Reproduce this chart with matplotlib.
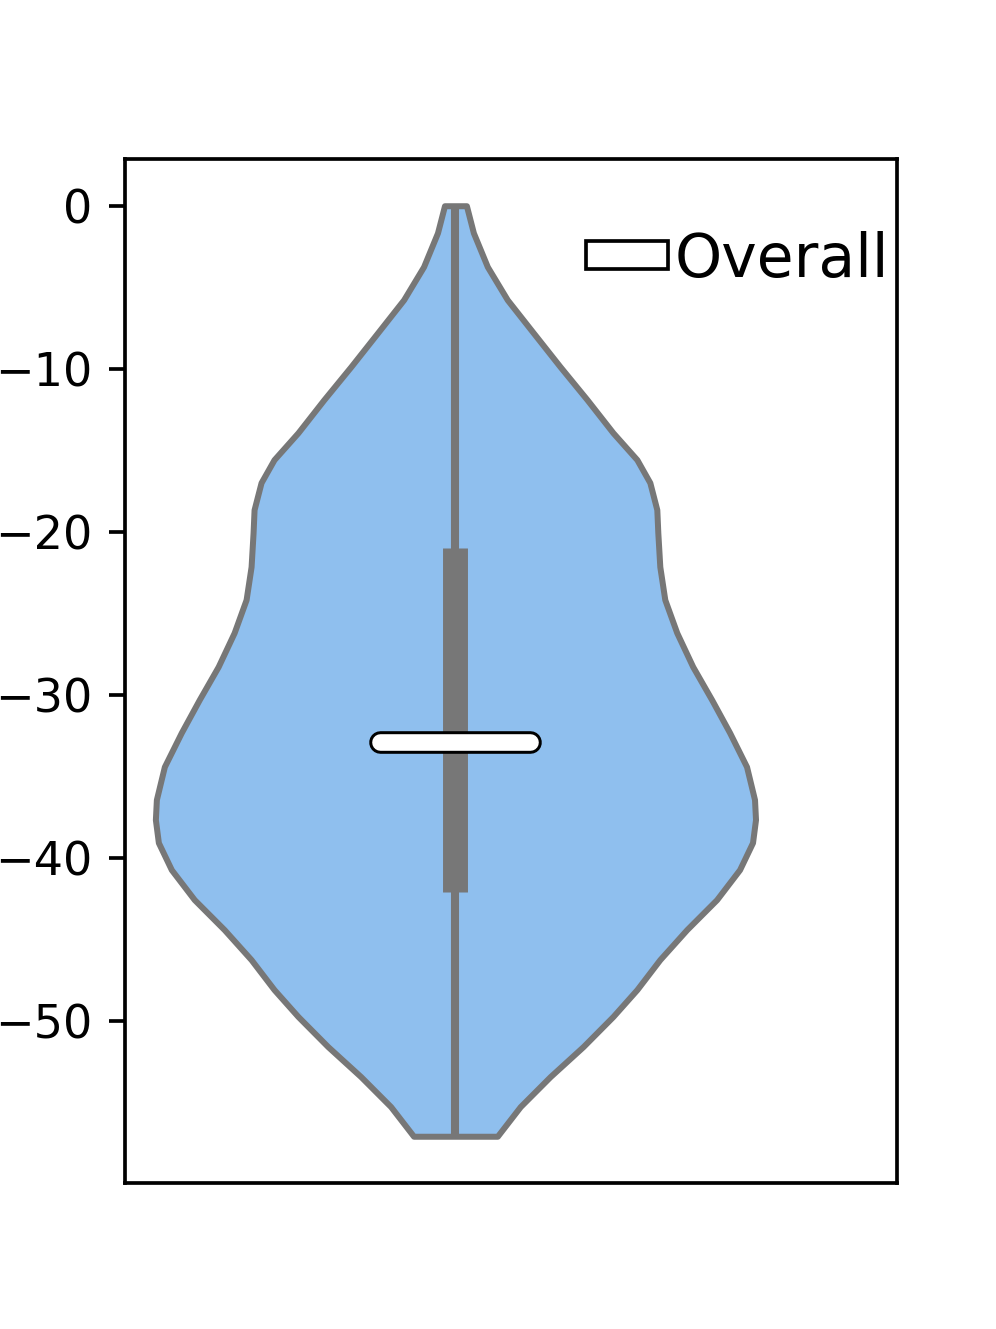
import matplotlib
matplotlib.use("Agg")
import matplotlib.pyplot as plt
import numpy as np
from matplotlib.patches import Patch

# violin outline: value and relative half-width
profile_y = [0.0, -1.66, -3.74, -5.77, -7.79, -9.88, -11.9, -13.93, -15.58,
             -16.99, -18.65, -20.06, -22.15, -24.17, -26.2, -28.28, -30.31,
             -32.33, -34.42, -36.44, -37.67, -39.08, -40.74, -42.58, -44.42,
             -46.26, -48.1, -49.75, -51.6, -53.44, -55.28, -57.1]
profile_w = [11, 18, 32, 52, 78, 105, 132, 158, 182, 195, 202, 203, 205, 210,
             222, 238, 257, 275, 292, 300, 301, 298, 285, 262, 232, 205, 182,
             158, 128, 95, 65, 42]

# box summary
data_max = 0.0
data_min = -57.1
q1 = -42.1
q3 = -21.0
median = -32.9
label = "Overall"

fill_color = "#8fbfee"
line_color = "#777777"

fig, ax = plt.subplots(figsize=(3, 4), dpi=332.33)

pos = 0.0
half = 0.4
w = np.array(profile_w) / max(profile_w) * half
y = np.array(profile_y)

ax.fill_betweenx(y, pos - w, pos + w, facecolor=fill_color,
                 edgecolor=line_color, linewidth=1.3, joinstyle="round",
                 zorder=1)
# whiskers and box
ax.plot([pos, pos], [data_min, data_max], color=line_color, lw=1.75,
        solid_capstyle="butt", zorder=2)
ax.plot([pos, pos], [q1, q3], color=line_color, lw=5.4,
        solid_capstyle="butt", zorder=2)
# median marker
ax.plot([pos - 0.1, pos + 0.1], [median, median], color="black", lw=4.9,
        solid_capstyle="round", zorder=3)
ax.plot([pos - 0.1, pos + 0.1], [median, median], color="white", lw=3.6,
        solid_capstyle="round", zorder=4)

ax.set_xlim(-0.441, 0.589)
ax.set_xticks([])
ax.set_yticks([0, -10, -20, -30, -40, -50])

handle = Patch(facecolor="white", edgecolor="black", linewidth=0.8)
ax.legend([handle], [label], loc="upper right", bbox_to_anchor=(0.99, 0.93),
          frameon=False, fontsize=13, borderpad=0, borderaxespad=0,
          handlelength=1.37, handleheight=0.35, handletextpad=0.12)

fig.savefig("out.png")
